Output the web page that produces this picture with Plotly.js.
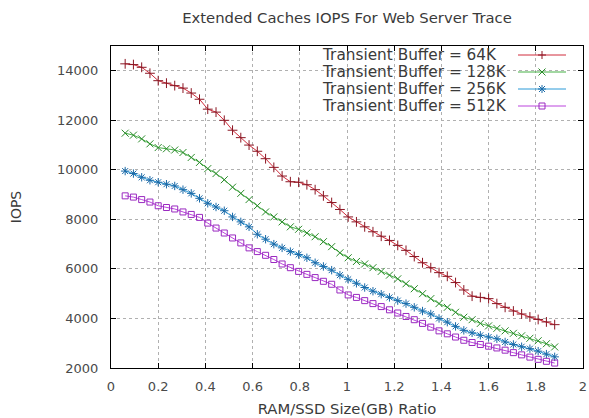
<!DOCTYPE html>
<html>
<head>
<meta charset="utf-8">
<script src="https://cdn.plot.ly/plotly-3.0.1.min.js"></script>
<style>html,body{margin:0;padding:0;background:#fff;}#chart{width:589px;height:418px;}</style>
</head>
<body>
<div id="chart"></div>
<script>
// ---- data ----
const ratio = [0.06,0.095,0.13,0.165,0.2,0.235,0.27,0.305,0.34,0.375,0.41,0.445,0.48,0.515,0.55,0.585,0.62,0.655,0.69,0.725,0.76,0.795,0.83,0.865,0.9,0.935,0.97,1.005,1.04,1.075,1.11,1.145,1.18,1.215,1.25,1.285,1.32,1.355,1.39,1.425,1.46,1.495,1.53,1.565,1.6,1.635,1.67,1.705,1.74,1.775,1.81,1.845,1.88];
const iops64K = [14280,14250,14140,13900,13600,13500,13400,13300,13100,12850,12450,12330,12000,11600,11300,11000,10750,10450,10100,9750,9520,9500,9400,9200,8950,8680,8400,8100,7900,7700,7500,7320,7150,6950,6750,6500,6250,6050,5850,5700,5450,5150,4900,4850,4800,4600,4450,4300,4180,4060,3960,3860,3750];
const iops128K = [11480,11400,11250,11050,10900,10850,10800,10700,10500,10300,10050,9850,9600,9300,9050,8800,8550,8300,8100,7900,7700,7600,7450,7300,7100,6900,6650,6450,6300,6200,6050,5900,5750,5600,5400,5200,5000,4800,4600,4450,4250,4050,3950,3800,3700,3600,3500,3400,3300,3200,3100,2980,2850];
const iops256K = [9950,9850,9700,9580,9500,9420,9350,9200,9050,8850,8650,8500,8350,8100,7900,7700,7400,7200,7000,6850,6700,6580,6450,6250,6100,5950,5750,5580,5420,5250,5100,4980,4850,4720,4600,4450,4300,4180,4000,3850,3680,3520,3420,3320,3250,3180,3050,2950,2860,2780,2680,2560,2450];
const iops512K = [8950,8900,8800,8700,8550,8480,8420,8300,8200,8080,7850,7650,7450,7250,7050,6850,6700,6550,6380,6200,6050,5900,5780,5650,5500,5380,5150,4950,4850,4720,4600,4480,4350,4220,4080,3950,3800,3650,3500,3380,3250,3120,3030,2950,2880,2810,2720,2620,2530,2440,2350,2270,2200];
const seriesNames = ["Transient Buffer = 64K","Transient Buffer = 128K","Transient Buffer = 256K","Transient Buffer = 512K"];
const xTicks = [0,0.2,0.4,0.6,0.8,1,1.2,1.4,1.6,1.8,2];
const xTickLabels = ["0","0.2","0.4","0.6","0.8","1","1.2","1.4","1.6","1.8","2"];
const yTicks = [2000,4000,6000,8000,10000,12000,14000];
const yTickLabels = ["2000","4000","6000","8000","10000","12000","14000"];

// ---- styles ----
const lineColors = ["#d02c3c","#44b044","#2a9ad8","#bb44dd"];
const markColors = ["#8a1522","#2a8a2a","#1a6aa8","#9a2ac0"];
const symbols = ["cross-thin-open","x-thin-open","asterisk-open","square-open"];
const ys = [iops64K, iops128K, iops256K, iops512K];

const traces = ys.map((y,i)=>({
  x: ratio, y: y, type:'scatter', mode:'lines+markers', name: seriesNames[i],
  line:{color:lineColors[i], width:1},
  marker:{symbol:symbols[i], size:(i===3?6:7), color:markColors[i], line:{color:markColors[i], width:1}},
  showlegend:false
}));

// plot area geometry (pixels) for custom gnuplot-style key
const W=589,H=418, L=111, R=6, T=46, B=50;
const pw=W-L-R, ph=H-T-B;
const px2x = p => (p-L)/pw;
const py2y = p => (H-B-p)/ph;
const rowsY = [55,72,89,106];
const annotations = [], shapes = [];
const symPaths = [
  "M-4,0L4,0M0,-4L0,4",
  "M-3.5,-3.5L3.5,3.5M-3.5,3.5L3.5,-3.5",
  "M-4,0L4,0M0,-4L0,4M-3,-3L3,3M-3,3L3,-3",
  "M-3,-3L3,-3L3,3L-3,3Z"
];
const txt = '#3a3a3a';
seriesNames.forEach((n,i)=>{
  annotations.push({text:n, xref:'paper', yref:'paper', x:px2x(320), y:py2y(rowsY[i]), xanchor:'left', yanchor:'middle', showarrow:false, font:{family:'DejaVu Sans', size:15.3, color:txt}});
  shapes.push({type:'line', xref:'paper', yref:'paper', x0:px2x(518), x1:px2x(566), y0:py2y(rowsY[i]), y1:py2y(rowsY[i]), line:{color:lineColors[i], width:1}});
  shapes.push({type:'path', xref:'paper', yref:'paper', xsizemode:'pixel', ysizemode:'pixel', xanchor:px2x(542), yanchor:py2y(rowsY[i]), path:symPaths[i], line:{color:markColors[i], width:1}});
});

const axisCommon = {
  showline:true, linecolor:'#000', linewidth:1, mirror:'ticks', ticks:'inside', ticklen:5, tickcolor:'#000',
  showgrid:true, gridcolor:'#b0b0b0', griddash:'dot', gridwidth:1, zeroline:false,
  tickfont:{family:'DejaVu Sans', size:13, color:'#4a4a4a'}
};

const layout = {
  width:W, height:H, margin:{l:L, r:R, t:T, b:B}, paper_bgcolor:'#fff', plot_bgcolor:'#fff',
  title:{text:'Extended Caches IOPS For Web Server Trace', font:{family:'DejaVu Sans', size:14.8, color:txt}, x:0.5, xref:'paper', y:1-18/H, yref:'container', yanchor:'middle'},
  xaxis:Object.assign({}, axisCommon, {range:[0,2], tickvals:xTicks, ticktext:xTickLabels, ticklabelstandoff:6,
    title:{text:'RAM/SSD Size(GB) Ratio', font:{family:'DejaVu Sans', size:14.8, color:txt}, standoff:11}}),
  yaxis:Object.assign({}, axisCommon, {range:[2000,15000], tickvals:yTicks, ticktext:yTickLabels, ticklabelstandoff:9,
    title:{text:'IOPS', font:{family:'DejaVu Sans', size:14, color:txt}, standoff:32}}),
  annotations:annotations, shapes:shapes, showlegend:false
};

Plotly.newPlot('chart', traces, layout, {displayModeBar:false, staticPlot:true});
</script>
</body>
</html>
